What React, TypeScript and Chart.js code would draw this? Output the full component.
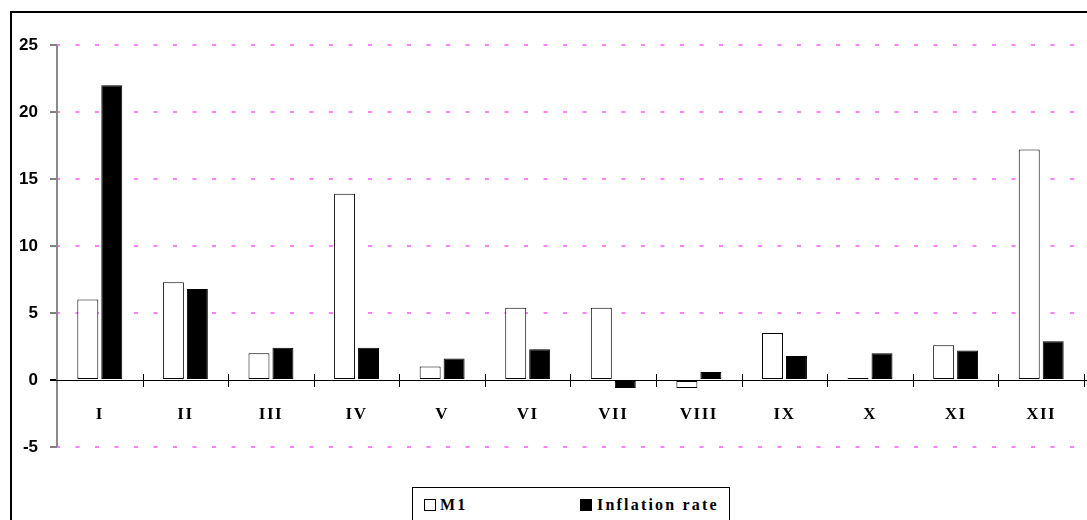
import React, { useEffect, useRef } from "react";
import { Chart, registerables } from "chart.js";

Chart.register(...registerables);

const categories = ["I", "II", "III", "IV", "V", "VI", "VII", "VIII", "IX", "X", "XI", "XII"];
const m1Values = [6.0, 7.3, 2.0, 13.9, 1.0, 5.4, 5.4, -0.6, 3.5, 0.1, 2.6, 17.2];
const inflationValues = [22.0, 6.8, 2.4, 2.4, 1.6, 2.3, -0.6, 0.6, 1.8, 2.0, 2.2, 2.9];
const yMin = -5;
const yMax = 25;
const yStep = 5;
const seriesNames = ["M1", "Inflation rate"];

const W = 1087;
const H = 520;

const xTicksPlugin = {
  id: "xTicksPlugin",
  beforeDraw(chart: any) {
    const s = chart.scales.x;
    if (s && !s._lsPatched) {
      const orig = s.drawLabels.bind(s);
      s.drawLabels = (area: any) => {
        const c = chart.ctx;
        c.save();
        (c as any).letterSpacing = "1.5px";
        orig(area);
        c.restore();
      };
      s._lsPatched = true;
    }
  },
  afterDatasetsDraw(chart: any) {
    const { ctx, scales } = chart;
    const x = scales.x;
    const y = scales.y;
    const y0 = y.getPixelForValue(0);
    const n = categories.length;
    ctx.save();
    ctx.setLineDash([]);
    ctx.strokeStyle = "#8a8a8a";
    ctx.lineWidth = 2;
    ctx.beginPath();
    ctx.moveTo(chart.chartArea.left, y.getPixelForValue(yMax));
    ctx.lineTo(chart.chartArea.left, y.getPixelForValue(yMin));
    ctx.stroke();
    ctx.strokeStyle = "#000";
    ctx.lineWidth = 1;
    ctx.beginPath();
    ctx.moveTo(chart.chartArea.left - 6, Math.round(y0) + 0.5);
    ctx.lineTo(W, Math.round(y0) + 0.5);
    ctx.stroke();
    for (let i = 0; i < n; i++) {
      const c = x.getPixelForValue(i);
      const half = (x.getPixelForValue(1) - x.getPixelForValue(0)) / 2;
      const px = Math.round(c + half) + 0.5;
      ctx.beginPath();
      ctx.moveTo(px, y0 - 6);
      ctx.lineTo(px, y0 + 7);
      ctx.stroke();
    }
    ctx.restore();
  },
};

export default function App() {
  const ref = useRef<HTMLCanvasElement | null>(null);

  useEffect(() => {
    if (!ref.current) return;
    const chart = new Chart(ref.current, {
      type: "bar",
      data: {
        labels: categories,
        datasets: [
          {
            label: seriesNames[0],
            data: m1Values,
            backgroundColor: "#ffffff",
            borderColor: "#000000",
            borderWidth: 1,
            borderSkipped: false,
            minBarLength: 2,
            barPercentage: 0.875,
            categoryPercentage: 0.56,
          },
          {
            label: seriesNames[1],
            data: inflationValues,
            backgroundColor: "#000000",
            borderColor: "#000000",
            borderWidth: 1,
            borderSkipped: false,
            barPercentage: 0.875,
            categoryPercentage: 0.56,
          },
        ],
      },
      options: {
        responsive: false,
        animation: false,
        maintainAspectRatio: false,
        layout: { padding: { left: 0, top: 45, right: 3, bottom: 73 } },
        plugins: {
          legend: { display: false },
          tooltip: { enabled: false },
          title: { display: false },
        },
        scales: {
          x: {
            position: { y: 0 } as any,
            grid: { display: false },
            border: { display: false },
            ticks: {
              color: "#000",
              padding: 16,
              maxRotation: 0,
              autoSkip: false,
              font: { family: "'Liberation Serif', 'Times New Roman', serif", size: 17, weight: "bold" },
            },
          },
          y: {
            min: yMin,
            max: yMax,
            afterFit(scale: any) {
              scale.width = 57;
            },
            ticks: {
              stepSize: yStep,
              color: "#000",
              padding: 12,
              font: { family: "'Liberation Sans', Arial, sans-serif", size: 17, weight: "bold" },
            },
            border: { display: false, color: "#8a8a8a", width: 2, dash: [4, 15.5], dashOffset: 1 } as any,
            grid: {
              drawOnChartArea: true,
              drawTicks: true,
              tickLength: 7,
              color: (c: any) => (c.tick && c.tick.value === 0 ? "rgba(0,0,0,0)" : "#ff80ff"),
              lineWidth: 2,
              tickColor: "#000",
              tickWidth: (c: any) => (c.tick && c.tick.value === 0 ? 2 : 1),
              tickBorderDash: [],
            } as any,
          },
        },
      },
      plugins: [xTicksPlugin],
    });
    return () => chart.destroy();
  }, []);

  const legendText: React.CSSProperties = {
    fontFamily: "'Liberation Serif', 'Times New Roman', serif",
    fontWeight: "bold",
    fontSize: 16,
    letterSpacing: "2.2px",
    position: "absolute",
    top: 8,
    lineHeight: "18px",
  };

  return (
    <div
      style={{
        position: "fixed",
        left: 0,
        top: 0,
        width: W,
        height: H,
        overflow: "hidden",
        background: "#fff",
      }}
    >
      <div
        style={{
          position: "absolute",
          left: 10,
          top: 11,
          width: W - 10,
          height: H - 11,
          borderLeft: "2px solid #000",
          borderTop: "2px solid #000",
        }}
      />
      <canvas ref={ref} width={W} height={H} style={{ position: "absolute", left: 0, top: 0, width: W, height: H }} />
      <div
        style={{
          position: "absolute",
          left: 412,
          top: 487,
          width: 316,
          height: 40,
          border: "1.5px solid #000",
          background: "#fff",
        }}
      >
        <div
          style={{
            position: "absolute",
            left: 11,
            top: 11,
            width: 10,
            height: 10,
            border: "1px solid #000",
            background: "#fff",
          }}
        />
        <div style={{ ...legendText, left: 27 }}>{seriesNames[0]}</div>
        <div
          style={{
            position: "absolute",
            left: 167,
            top: 11,
            width: 12,
            height: 12,
            background: "#000",
          }}
        />
        <div style={{ ...legendText, left: 184 }}>{seriesNames[1]}</div>
      </div>
    </div>
  );
}
